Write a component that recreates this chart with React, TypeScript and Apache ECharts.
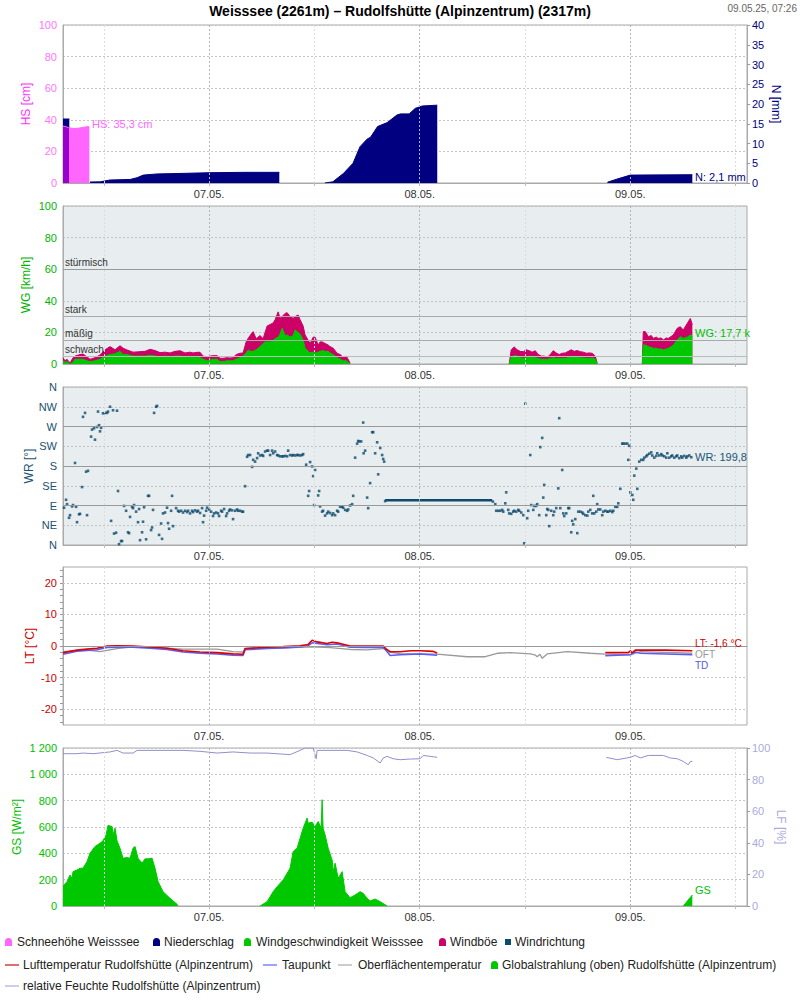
import React, { useEffect, useRef } from 'react';
import * as echarts from 'echarts';

// ---------- axis / time setup (hours since 06.05.2025 00:00) ----------
const X_MIN = 7.35;
const X_MAX = 85.3;
const DAY_TICKS = [24, 48, 72];
const DAY_LABELS = ['07.05.', '08.05.', '09.05.'];
const NOON_LINES = [12, 36, 60, 84];
const HOUR_TICKS = [12, 24, 36, 48, 60, 72, 84];
const WR_LABELS = ['N', 'NE', 'E', 'SE', 'S', 'SW', 'W', 'NW', 'N'];
const LT_LABELS = [-20, -10, 0, 10, 20];
const LT_TICKS = [-24, -22, -20, -18, -16, -14, -12, -10, -8, -6, -4, -2, 0, 2, 4, 6, 8, 10, 12, 14, 16, 18, 20, 22, 24];
const WIND_CLASSES = [
  { value: 5, name: 'schwach' },
  { value: 15, name: 'mäßig' },
  { value: 30, name: 'stark' },
  { value: 60, name: 'stürmisch' },
];

type P = [number, number | null];

// ---------- snow height / precipitation ----------
const HS_DATA: P[] = [[7.35, 36], [7.6, 35.8], [8.0, 35], [8.5, 34.5], [9.0, 34.6], [9.6, 35.2], [10.2, 35.7], [10.35, 35.5]];
const N_DATA: P[] = [
  [7.35, 16.2], [8.07, 16.2], [8.1, null],
  [10.43, 0.25], [11.6, 0.3], [12.7, 0.76], [15.0, 0.9], [15.8, 1.35], [16.5, 2.0], [18.1, 2.3], [20.35, 2.4], [24, 2.6], [27.9, 2.7], [32.0, 2.7], [32.05, null],
  [37.2, 0], [38.1, 0.3], [39.3, 2.4], [40.4, 5.0], [41.2, 9.2], [42.0, 11.1], [42.4, 11.6], [43.2, 14.3], [44.3, 15.3], [45.4, 17.2], [45.8, 17.5], [46.8, 17.5], [47.5, 18.9], [48.3, 19.5], [50.0, 19.7], [50.05, null],
  [69.4, 0.2], [70.5, 1.0], [72.0, 2.0], [79.07, 2.1],
];

// ---------- wind ----------
const GUST_DATA: P[] = [
  [7.35, 4], [7.58, 2], [7.81, 3], [8.15, 0.5], [8.49, 4], [8.72, 5], [9.29, 6], [9.63, 6.3], [10.09, 4.5], [10.43, 3], [11.0, 4], [11.57, 5.7], [12.14, 9], [12.71, 11], [13.28, 9], [13.85, 11.6], [14.19, 10], [14.65, 8.9], [15.33, 7.5], [16.13, 7.8], [16.7, 8], [17.27, 9.3], [17.84, 8.5], [18.41, 7.2], [18.98, 7.5], [19.55, 7], [20.12, 8], [20.69, 8.4], [21.26, 7], [21.83, 7.5], [22.17, 7], [22.63, 7.4], [22.97, 7.4], [23.31, 5], [23.77, 4.6], [24.11, 5], [24.45, 5.3], [24.91, 5.3], [25.25, 3.6], [25.59, 3.6], [26.05, 4], [26.39, 3.8], [26.73, 4], [27.08, 6], [27.53, 6.8], [27.87, 7], [28.22, 14], [28.45, 16.2], [28.67, 18], [29.02, 20.5], [29.36, 16], [29.81, 18], [30.16, 16], [30.38, 20], [30.61, 24], [30.95, 25], [31.3, 26], [31.52, 28], [31.87, 33], [32.09, 29], [32.32, 30], [32.66, 32], [32.89, 32.5], [33.23, 30], [33.58, 29], [33.8, 30], [34.15, 31], [34.37, 28], [34.72, 24], [34.94, 18.4], [35.29, 15], [35.51, 13], [35.86, 17], [36.08, 17], [36.43, 12], [36.65, 14], [36.88, 14], [37.22, 13], [37.57, 12], [37.79, 11], [38.14, 10], [38.59, 6.8], [38.93, 6], [39.28, 4.2], [39.62, 5], [39.85, 3], [40.07, 0.5], [40.1, null],
  [58.2, 0], [58.43, 9], [58.77, 10.8], [59.11, 9], [59.46, 8], [59.8, 7.8], [60.14, 9], [60.48, 8.4], [60.82, 7.5], [61.17, 8.4], [61.51, 6], [61.85, 5], [62.19, 5], [62.53, 4.2], [62.88, 6], [63.22, 8.4], [63.56, 7], [63.9, 6], [64.24, 6.8], [64.59, 7], [64.93, 8], [65.27, 9], [65.61, 8], [65.96, 8.5], [66.3, 7.8], [66.64, 7.5], [66.98, 6.8], [67.32, 7], [67.66, 6.8], [68.01, 5], [68.23, 0.5], [68.3, null],
  [73.37, 0], [73.48, 20.5], [73.71, 20.5], [74.05, 17.3], [74.39, 18], [74.62, 16.2], [74.96, 17], [75.19, 16.2], [75.53, 16.5], [75.76, 15.2], [76.1, 16.5], [76.33, 16.2], [76.67, 17.5], [76.9, 18.4], [77.35, 22.6], [77.7, 23.6], [78.04, 21.5], [78.49, 25.7], [78.84, 28.8], [79.07, 25],
];
const WG_DATA: P[] = [
  [7.35, 2], [7.58, 1], [7.81, 1.5], [8.15, 0], [8.49, 1], [8.72, 3], [9.29, 3], [9.63, 3], [10.09, 2], [10.43, 1.5], [11.0, 2], [11.57, 3], [12.14, 5], [12.71, 6], [13.28, 6.5], [13.85, 8], [14.19, 6], [14.65, 6], [15.33, 5], [16.13, 5], [16.7, 5], [17.27, 5.5], [17.84, 5], [18.41, 4.5], [18.98, 5], [19.55, 4.5], [20.12, 5], [20.69, 5], [21.26, 4.5], [21.83, 4.5], [22.17, 4], [22.63, 4.5], [22.97, 4], [23.31, 3], [23.77, 2], [24.11, 2.5], [24.45, 3], [24.91, 3], [25.25, 1.5], [25.59, 1.5], [26.05, 2], [26.39, 2], [26.73, 2], [27.08, 3], [27.53, 4], [27.87, 5], [28.22, 7], [28.45, 8.9], [28.67, 8], [29.02, 8], [29.36, 9], [29.81, 11], [30.16, 13], [30.38, 14], [30.61, 14], [30.95, 14], [31.3, 15], [31.52, 16], [31.87, 17], [32.09, 19], [32.32, 22.6], [32.66, 18], [32.89, 18.4], [33.23, 17], [33.58, 18], [33.8, 21.5], [34.15, 20], [34.37, 19], [34.72, 15], [34.94, 10], [35.29, 8], [35.51, 7], [35.86, 7.5], [36.08, 7], [36.43, 7.5], [36.65, 8], [36.88, 8.5], [37.22, 8], [37.57, 8], [37.79, 7], [38.14, 6], [38.59, 4], [38.93, 3], [39.28, 2], [39.62, 2], [39.85, 1], [40.07, 0.3], [40.1, null],
  [58.2, 0], [58.43, 4], [58.77, 5.3], [59.11, 5], [59.46, 4], [59.8, 3.6], [60.14, 4], [60.48, 4.5], [60.82, 4], [61.17, 4], [61.51, 3.5], [61.85, 3], [62.19, 3], [62.53, 3], [62.88, 3.5], [63.22, 4], [63.56, 3.5], [63.9, 3.6], [64.24, 3.6], [64.59, 3.6], [64.93, 4], [65.27, 4.5], [65.61, 4.6], [65.96, 4.5], [66.3, 4], [66.64, 3.8], [66.98, 3.6], [67.32, 3.6], [67.66, 3.8], [68.01, 3], [68.23, 0.3], [68.3, null],
  [73.37, 0], [73.48, 12], [73.71, 12], [74.05, 11], [74.39, 10.5], [74.62, 9.9], [74.96, 10], [75.19, 9.5], [75.53, 9.5], [75.76, 8.9], [76.1, 9.5], [76.33, 9.9], [76.67, 11], [76.9, 12], [77.35, 15.2], [77.7, 17.3], [78.04, 16.2], [78.49, 17], [78.84, 18.4], [79.07, 17.7],
];

// ---------- wind direction (degrees) ----------
const WR_DATA: P[] = [
  [7.47, 85], [7.7, 103], [7.81, 93], [8.04, 62], [8.15, 68], [8.38, 88], [8.49, 91], [8.72, 187], [8.84, 87], [8.95, 52], [9.18, 70], [9.29, 71], [9.52, 132], [9.63, 292], [9.86, 301], [9.98, 167], [10.09, 68], [10.2, 169], [10.55, 247], [10.66, 263], [10.89, 266], [11.0, 240], [11.23, 269], [11.34, 304], [11.46, 273], [11.57, 259], [11.69, 267], [11.91, 300], [12.14, 301], [12.37, 301], [12.48, 304], [12.71, 315], [12.83, 55], [13.05, 307], [13.17, 26], [13.4, 28], [13.51, 306], [13.62, 123], [13.74, 2], [13.97, 9], [14.08, 9], [14.31, 89], [14.54, 78], [14.76, 29], [14.88, 27], [14.99, 64], [15.22, 87], [15.33, 84], [15.45, 91], [15.68, 76], [15.9, 52], [16.02, 82], [16.13, 11], [16.36, 29], [16.47, 53], [16.59, 86], [16.82, 13], [17.04, 112], [17.16, 112], [17.39, 34], [17.5, 40], [17.61, 80], [17.73, 301], [17.96, 315], [18.07, 317], [18.3, 23], [18.53, 49], [18.64, 14], [18.75, 72], [18.98, 74], [19.21, 85], [19.32, 50], [19.44, 37], [19.67, 78], [19.78, 112], [19.89, 43], [20.24, 84], [20.46, 78], [20.58, 76], [20.81, 78], [21.03, 74],
  [21.26, 78], [21.49, 75], [21.61, 78], [21.83, 72], [22.06, 78], [22.17, 75], [22.4, 79], [22.63, 76], [22.74, 78], [22.97, 73], [23.2, 84], [23.31, 52], [23.43, 67], [23.66, 78], [23.77, 85], [24.0, 81], [24.23, 76], [24.45, 66], [24.57, 72], [24.8, 74], [25.02, 72], [25.14, 66], [25.37, 78], [25.48, 76], [25.71, 82], [25.94, 66], [26.05, 72], [26.28, 78], [26.39, 81], [26.62, 79], [26.73, 59], [26.96, 78], [27.19, 81], [27.3, 78], [27.53, 78], [27.76, 76], [27.87, 76], [28.1, 134],
  [28.33, 201], [28.45, 205], [28.67, 205], [28.9, 178], [29.02, 194], [29.24, 190], [29.47, 198], [29.59, 209], [29.81, 204], [30.04, 205], [30.16, 203], [30.38, 213], [30.61, 215], [30.73, 215], [30.95, 205], [31.18, 215], [31.3, 209], [31.52, 213], [31.75, 205], [31.87, 204], [32.09, 202], [32.32, 202], [32.44, 202], [32.66, 203], [32.89, 202], [33.01, 215], [33.23, 205], [33.46, 204], [33.58, 205], [33.8, 204], [34.03, 205], [34.15, 205], [34.37, 204], [34.6, 205], [34.72, 207],
  [35.06, 183], [35.29, 112], [35.4, 123], [35.51, 189], [35.74, 179], [35.86, 157], [35.97, 91], [36.08, 171], [36.43, 113], [36.54, 123], [36.65, 88], [36.88, 76], [36.99, 78], [37.22, 67], [37.45, 72], [37.57, 76], [37.79, 73], [38.02, 68], [38.14, 72], [38.36, 68], [38.59, 78], [38.71, 76], [38.93, 87], [39.16, 87], [39.28, 85], [39.5, 80], [39.73, 78], [39.85, 81], [40.07, 90], [40.3, 93], [40.42, 112], [40.64, 199], [40.87, 231], [40.99, 237], [41.1, 236], [41.33, 236], [41.56, 279], [41.61, 209], [41.78, 215], [42.01, 108], [42.13, 84], [42.35, 141], [42.58, 257], [42.7, 257], [42.92, 209], [43.15, 234], [43.27, 161], [43.5, 221], [43.72, 205], [43.84, 196], [43.95, 190], [44.06, 100],
  [56.34, 99], [56.61, 93], [56.72, 78], [56.95, 78], [57.18, 78], [57.4, 80], [57.52, 76], [57.75, 95], [57.86, 120], [58.09, 80], [58.2, 72], [58.43, 71], [58.66, 76], [58.77, 78], [59.0, 76], [59.23, 80], [59.34, 78], [59.57, 74], [59.8, 68], [59.91, 4], [60.03, 322], [60.25, 61], [60.37, 78], [60.6, 205], [60.71, 91], [60.94, 80], [61.05, 89], [61.28, 89], [61.39, 93], [61.62, 68], [61.74, 223], [61.96, 244], [62.08, 108], [62.19, 137], [62.42, 68], [62.53, 82], [62.65, 80], [62.76, 43], [62.99, 78], [63.22, 68], [63.33, 76], [63.56, 84], [63.79, 129], [63.9, 289], [64.02, 84], [64.24, 171], [64.36, 72], [64.47, 66], [64.7, 72], [64.93, 84], [65.04, 84], [65.27, 29], [65.38, 55], [65.5, 47], [65.73, 59], [65.96, 27], [66.07, 76], [66.3, 76], [66.53, 74], [66.64, 71], [66.87, 68], [67.1, 67], [67.21, 76], [67.44, 80], [67.66, 72], [67.78, 112], [67.89, 72], [68.12, 76], [68.23, 93], [68.35, 81], [68.58, 81], [68.8, 68], [68.92, 76], [69.15, 78], [69.37, 76], [69.49, 76], [69.72, 78], [69.94, 75], [70.06, 78], [70.29, 87], [70.51, 87], [70.63, 95], [70.86, 128],
  [71.08, 231], [71.2, 231], [71.43, 231], [71.66, 231], [71.77, 194], [71.88, 226], [72.0, 120], [72.23, 114], [72.34, 103], [72.45, 158], [72.68, 174], [72.8, 128], [73.02, 190], [73.25, 194], [73.48, 194], [73.59, 199], [73.82, 202], [73.94, 205], [74.16, 208], [74.39, 211], [74.5, 204], [74.73, 199], [74.96, 203], [75.07, 209], [75.3, 204], [75.53, 207], [75.65, 204], [75.87, 202], [76.1, 199], [76.22, 209], [76.44, 199], [76.67, 202], [76.78, 204], [77.01, 199], [77.24, 202], [77.35, 204], [77.58, 198], [77.81, 202], [77.92, 199], [78.15, 203], [78.38, 199], [78.49, 202], [78.72, 204], [78.95, 200],
];
// constant-value stretch reported by the station
const WR_FLAT: P[] = [[44.06, 102], [56.26, 102]];

// ---------- temperatures ----------
const LT_DATA: P[] = [
  [7.35, -2.1], [8.95, -1.3], [10.09, -1.0], [11.23, -0.7], [12.37, 0], [13.51, 0.1], [15.33, 0], [17.27, -0.3], [19.21, -0.7], [21.03, -1.5], [22.97, -1.9], [24.91, -2.1], [26.73, -2.5], [27.87, -2.6], [28.1, -0.8], [30.61, -0.4], [32.44, -0.2], [34.37, 0.1], [35.3, 0.5], [35.74, 1.8], [36.31, 1.3], [37.45, 0.8], [38.0, 1.2], [38.59, 1.0], [40.07, 0], [42.01, 0], [43.84, 0], [44.2, -1.0], [44.63, -1.8], [45.77, -1.8], [47.0, -1.5], [48.05, -1.5], [49.5, -1.7], [49.99, -2.2], [50.05, null],
  [69.15, -2.1], [71.8, -2.1], [72.0, -1.5], [72.2, -2.2], [72.57, -1.3], [76.0, -1.3], [79.07, -1.5],
];
const TD_DATA: P[] = [
  [7.35, -2.6], [8.95, -1.7], [10.09, -1.4], [11.23, -1.2], [12.37, -0.5], [13.51, -0.4], [15.33, -0.4], [17.27, -0.7], [19.21, -1.1], [21.03, -1.9], [22.97, -2.3], [24.91, -2.5], [26.73, -2.9], [27.87, -3.0], [28.1, -1.2], [30.61, -0.8], [32.44, -0.6], [34.37, -0.3], [35.3, 0.1], [35.74, 1.0], [36.31, 0.8], [37.45, 0.4], [38.59, 0.6], [40.07, -0.4], [42.01, -0.5], [43.84, -0.5], [44.2, -1.5], [44.63, -3.0], [45.77, -2.8], [48.05, -2.5], [49.99, -2.9], [50.05, null],
  [69.15, -3.1], [72.0, -2.8], [72.2, -2.4], [72.57, -1.9], [73.14, -2.3], [76.0, -2.5], [79.07, -2.8],
];
const OFT_DATA: P[] = [
  [7.35, -1.8], [10.09, -1.3], [11.57, -1.8], [13.51, -0.8], [15.33, -0.3], [17.27, -0.4], [21.03, -1.0], [24.91, -1.0], [26.73, -1.8], [27.87, -1.9], [28.1, -0.8], [32.09, -0.6], [34.37, -0.4], [35.74, -0.3], [37.79, -0.5], [40.07, -1.1], [42.01, -1.2], [43.84, -0.8], [44.63, -2.0], [45.77, -2.4], [48.05, -2.5], [49.99, -2.6], [53.41, -3.4], [55.47, -3.4], [56.83, -2.3], [58.31, -2.1], [60.6, -2.5], [61.2, -2.9], [61.39, -3.4], [61.7, -2.6], [61.96, -3.9], [62.53, -2.5], [64.81, -1.8], [67.44, -2.3], [69.15, -2.6], [72.0, -2.8], [73.14, -1.8], [79.07, -2.3],
];

// ---------- radiation / humidity ----------
const GS_DATA: P[] = [
  [7.35, 150], [7.47, 160], [7.81, 185], [8.15, 236], [8.38, 210], [8.49, 261], [8.95, 274], [9.29, 287], [9.63, 287], [10.09, 338], [10.43, 401], [11.0, 452], [11.57, 477], [11.91, 495], [12.26, 540], [12.48, 612], [12.94, 604], [13.05, 540], [13.28, 591], [13.51, 495], [13.85, 439], [14.19, 363], [14.65, 368], [14.99, 363], [15.33, 439], [15.56, 452], [15.9, 363], [16.36, 325], [16.7, 358], [17.04, 358], [17.5, 363], [17.84, 287], [18.19, 185], [18.75, 109], [19.55, 58], [20.35, 13], [20.46, 0], [20.5, null],
  [29.81, 0], [30.61, 33], [31.3, 109], [31.75, 147], [32.44, 198], [33.23, 287], [33.58, 414], [34.03, 439], [34.37, 515], [34.72, 591], [35.17, 668], [35.29, 629], [35.74, 637], [36.08, 604], [36.43, 642], [36.77, 591], [36.88, 807], [36.99, 591], [37.22, 540], [37.57, 439], [38.02, 350], [38.14, 261], [38.36, 325], [38.71, 211], [39.16, 261], [39.5, 109], [40.07, 63], [40.64, 84], [41.21, 109], [41.56, 96], [42.01, 58], [42.35, 38], [42.92, 53], [43.5, 33], [44.29, 0], [44.3, null],
  [78.04, 0], [79.07, 84],
];
const LF_DATA: P[] = [
  [7.35, 96.4], [8.95, 96.4], [9.63, 96.8], [10.77, 96.4], [12.71, 97.5], [13.51, 98.5], [14.19, 96.8], [15.33, 96.8], [15.79, 98.5], [17.27, 98.5], [21.03, 98.5], [22.97, 97.9], [24.91, 96.8], [26.73, 97.5], [28.67, 96.8], [30.61, 96.8], [33.23, 95.8], [34.37, 98.5], [34.94, 100], [35.86, 100], [36.2, 93.2], [36.31, 98.5], [38.14, 98.5], [39.73, 98.5], [40.87, 97.5], [42.01, 95.3], [42.7, 93.7], [43.5, 90.5], [43.84, 93.7], [44.29, 94.7], [44.98, 93.2], [45.77, 92.6], [46.92, 93.0], [48.05, 93.2], [48.4, 95.3], [49.2, 94.7], [49.99, 94.1], [50.05, null],
  [69.26, 94.1], [70.51, 92.6], [72.0, 94.1], [72.57, 95.3], [73.14, 93.7], [74.05, 95.3], [75.76, 95.3], [76.56, 93.7], [77.35, 93.2], [78.04, 91.5], [78.61, 89.4], [78.84, 91.5], [79.07, 91.5],
];

// ---------- texts ----------
const TITLE = 'Weisssee (2261m) – Rudolfshütte (Alpinzentrum) (2317m)';
const STAMP = '09.05.25, 07:26';
const END_LABELS = [
  { text: 'HS: 35,3 cm', color: '#ff66ff', size: 11 },
  { text: 'N: 2,1 mm', color: '#000080', size: 11 },
  { text: 'WG: 17,7 k', color: '#00c000', size: 11 },
  { text: 'WR: 199,8', color: '#1a5575', size: 11 },
  { text: 'LT: -1,6 °C', color: '#cc0000', size: 10 },
  { text: 'OFT', color: '#999999', size: 10 },
  { text: 'TD', color: '#5555ee', size: 10 },
  { text: 'GS', color: '#00c000', size: 11 },
];
const END_LABEL_POS = [[92, 124], [695, 177], [695, 333], [695, 457], [695, 643], [695, 654], [695, 665], [695, 890]];

const LEGEND_ITEMS = [
  { name: 'Schneehöhe Weisssee', color: '#ff66ff', icon: 'bell' },
  { name: 'Niederschlag', color: '#000080', icon: 'bell' },
  { name: 'Windgeschwindigkeit Weisssee', color: '#00c800', icon: 'bell' },
  { name: 'Windböe', color: '#cc0066', icon: 'bell' },
  { name: 'Windrichtung', color: '#0d4a6b', icon: 'square' },
  { name: 'Lufttemperatur Rudolfshütte (Alpinzentrum)', color: '#e07070', icon: 'line' },
  { name: 'Taupunkt', color: '#a0a0ff', icon: 'line' },
  { name: 'Oberflächentemperatur', color: '#cccccc', icon: 'line' },
  { name: 'Globalstrahlung (oben) Rudolfshütte (Alpinzentrum)', color: '#00c800', icon: 'bell' },
  { name: 'relative Feuchte Rudolfshütte (Alpinzentrum)', color: '#ccccee', icon: 'line' },
];
// [iconX, textX, rowY]
const LEGEND_POS = [
  [5, 17, 942], [153, 164, 942], [244, 256, 942], [439, 450, 942], [505, 515, 942],
  [5, 23, 965], [263, 282, 965], [338, 358, 965], [491, 502, 965],
  [5, 23, 986],
];

const FONT = "'Liberation Sans', Arial, sans-serif";
const GRID_TOPS = [25, 206, 387, 567, 748];
const GRID_BG = ['#ffffff', '#e8eef0', '#e8eef0', '#ffffff', '#ffffff'];

function fmtThousands(v: number): string {
  if (v >= 1000) return `${Math.floor(v / 1000)} ${String(v % 1000).padStart(3, '0')}`;
  return String(v);
}

const DASH = [2, 2];

function vLineData() {
  return [
    ...DAY_TICKS.map((x) => ({ xAxis: x, lineStyle: { color: '#b4b4b4', type: DASH, width: 1 } })),
    ...NOON_LINES.map((x) => ({ xAxis: x, lineStyle: { color: '#dcdcdc', type: DASH, width: 1 } })),
  ];
}

function refSeries(gi: number, yi: number, extra: any[] = []) {
  return {
    type: 'line',
    xAxisIndex: gi,
    yAxisIndex: yi,
    data: [],
    silent: true,
    z: 1,
    markLine: {
      silent: true,
      symbol: 'none',
      animation: false,
      label: { show: false },
      data: [...vLineData(), ...extra],
    },
  };
}

function areaSeries(name: string, gi: number, yi: number, data: P[], color: any, z: number, lineColor?: string) {
  return {
    name,
    type: 'line',
    xAxisIndex: gi,
    yAxisIndex: yi,
    data,
    showSymbol: false,
    connectNulls: false,
    z,
    lineStyle: { width: 1, color: lineColor || color },
    itemStyle: { color: lineColor || color },
    areaStyle: { color, opacity: 1 },
  };
}

function lineSeries(name: string, gi: number, yi: number, data: P[], color: string, width: number, z: number) {
  return {
    name,
    type: 'line',
    xAxisIndex: gi,
    yAxisIndex: yi,
    data,
    showSymbol: false,
    connectNulls: false,
    z,
    lineStyle: { width, color },
    itemStyle: { color },
  };
}

function leftAxis(gi: number, opts: any) {
  return {
    type: 'value',
    gridIndex: gi,
    position: 'left',
    nameLocation: 'middle',
    nameRotate: 90,
    nameMoveOverlap: false,
    axisLine: { show: true, lineStyle: { color: '#aaaaaa' } },
    axisTick: { show: false },
    splitLine: { show: true, lineStyle: { color: '#c4c4c4', type: DASH } },
    ...opts,
    axisLabel: { fontSize: 11, margin: 6, fontFamily: FONT, ...(opts.axisLabel || {}) },
    nameTextStyle: { fontSize: 12, fontFamily: FONT, ...(opts.nameTextStyle || {}) },
  };
}

function rightAxis(gi: number, opts: any) {
  return {
    type: 'value',
    gridIndex: gi,
    position: 'right',
    nameLocation: 'middle',
    nameRotate: -90,
    nameMoveOverlap: false,
    axisLine: { show: true, lineStyle: { color: '#aaaaaa' } },
    axisTick: { show: true, length: 3, lineStyle: { color: '#999999' } },
    splitLine: { show: false },
    ...opts,
    axisLabel: { fontSize: 11, margin: 5, fontFamily: FONT, ...(opts.axisLabel || {}) },
    nameTextStyle: { fontSize: 12, fontFamily: FONT, ...(opts.nameTextStyle || {}) },
  };
}

function buildOption(): any {
  const grid = GRID_TOPS.map((top, i) => ({
    left: 63,
    top,
    width: 684,
    height: 158,
    show: true,
    borderColor: '#aaaaaa',
    borderWidth: 1,
    backgroundColor: GRID_BG[i],
  }));

  const xAxis = GRID_TOPS.map((_, i) => ({
    type: 'value',
    gridIndex: i,
    min: X_MIN,
    max: X_MAX,
    axisLine: { show: true, lineStyle: { color: '#aaaaaa' } },
    axisTick: { show: true, customValues: HOUR_TICKS, length: 3, lineStyle: { color: '#bbbbbb' } },
    splitLine: { show: false },
    axisLabel: {
      customValues: DAY_TICKS,
      formatter: (v: number) => DAY_LABELS[DAY_TICKS.indexOf(Math.round(v))] || '',
      color: '#333333',
      fontSize: 11,
      margin: 5,
      fontFamily: FONT,
    },
  }));

  const yAxis = [
    leftAxis(0, { min: 0, max: 100, interval: 20, name: 'HS [cm]', nameGap: 31, axisLabel: { color: '#ff77ff' }, nameTextStyle: { color: '#ff33ff' } }),
    rightAxis(0, { min: 0, max: 40, interval: 5, name: 'N [mm]', nameGap: 23, axisLabel: { color: '#000080' }, nameTextStyle: { color: '#000080' } }),
    leftAxis(1, { min: 0, max: 100, interval: 20, name: 'WG [km/h]', nameGap: 31, axisLabel: { color: '#00b400' }, nameTextStyle: { color: '#00b400' } }),
    leftAxis(2, {
      min: 0, max: 360, interval: 45, name: 'WR [°]', nameGap: 28,
      axisLabel: { color: '#1a5070', formatter: (v: number) => WR_LABELS[Math.round(v / 45)] },
      nameTextStyle: { color: '#1a5070' },
    }),
    leftAxis(3, {
      min: -25, max: 25, name: 'LT [°C]', nameGap: 27,
      splitLine: { show: false },
      axisTick: { show: true, customValues: LT_TICKS, length: 3, lineStyle: { color: '#999999' } },
      axisLabel: { color: '#cc0000', customValues: LT_LABELS },
      nameTextStyle: { color: '#cc0000' },
    }),
    leftAxis(4, {
      min: 0, max: 1200, interval: 200, name: 'GS [W/m²]', nameGap: 40,
      axisLabel: { color: '#00c000', formatter: (v: number) => fmtThousands(v) },
      nameTextStyle: { color: '#00c000' },
    }),
    rightAxis(4, { min: 0, max: 100, interval: 20, name: 'LF [%]', nameGap: 28, axisLabel: { color: '#aaaadd' }, nameTextStyle: { color: '#aaaadd' } }),
  ];

  const hsFill = new echarts.graphic.LinearGradient(0, 0, 1, 0, [
    { offset: 0, color: '#9900cc' },
    { offset: 0.24, color: '#9900cc' },
    { offset: 0.24, color: '#ff66ff' },
    { offset: 1, color: '#ff66ff' },
  ]);

  const windLines = WIND_CLASSES.map((c) => ({
    yAxis: c.value,
    name: c.name,
    lineStyle: { color: c.value === 5 ? '#bbbbbb' : c.value === 60 ? '#999999' : '#aaaaaa', type: 'solid', width: 1 },
    label: {
      show: true,
      position: 'insideStartTop',
      formatter: '{b}',
      color: '#333333',
      fontSize: 10,
      fontFamily: FONT,
      distance: [2, 2],
    },
  }));
  const compassLines = [90, 180, 270].map((v) => ({ yAxis: v, lineStyle: { color: '#9a9a9a', type: 'solid', width: 1 } }));
  const ltLines = LT_LABELS.map((v) => ({
    yAxis: v,
    lineStyle: v === 0 ? { color: '#9a9a9a', type: 'solid', width: 1 } : { color: '#c4c4c4', type: DASH, width: 1 },
  }));

  const series: any[] = [
    refSeries(0, 0),
    areaSeries('Niederschlag', 0, 1, N_DATA, '#000080', 2),
    areaSeries('Schneehöhe Weisssee', 0, 0, HS_DATA, hsFill, 3, '#ff66ff'),

    refSeries(1, 2, windLines),
    areaSeries('Windböe', 1, 2, GUST_DATA, '#cc0066', 2),
    areaSeries('Windgeschwindigkeit Weisssee', 1, 2, WG_DATA, '#00c800', 3),

    refSeries(2, 3, compassLines),
    {
      name: 'Windrichtung',
      type: 'scatter',
      xAxisIndex: 2,
      yAxisIndex: 3,
      data: WR_DATA,
      symbol: 'rect',
      symbolSize: 2.6,
      itemStyle: { color: '#0d4a6b' },
      z: 3,
    },
    lineSeries('Windrichtung (konstant)', 2, 3, WR_FLAT, '#0d4a6b', 2.6, 3),

    refSeries(3, 4, ltLines),
    lineSeries('Oberflächentemperatur', 3, 4, OFT_DATA, '#999999', 1.3, 2),
    lineSeries('Taupunkt', 3, 4, TD_DATA, '#5a5aff', 1.5, 3),
    lineSeries('Lufttemperatur Rudolfshütte (Alpinzentrum)', 3, 4, LT_DATA, '#dd0000', 1.6, 4),

    refSeries(4, 5),
    areaSeries('Globalstrahlung (oben) Rudolfshütte (Alpinzentrum)', 4, 5, GS_DATA, '#00c800', 2),
    lineSeries('relative Feuchte Rudolfshütte (Alpinzentrum)', 4, 6, LF_DATA, '#8f8fcc', 1, 3),
  ];

  const graphics: any[] = [
    {
      type: 'text', x: 400, y: 11, z: 100,
      style: { text: TITLE, fill: '#000000', fontSize: 14, fontWeight: 'bold', fontFamily: FONT, align: 'center', verticalAlign: 'middle' },
    },
    {
      type: 'text', x: 797, y: 8, z: 100,
      style: { text: STAMP, fill: '#666666', fontSize: 10, fontFamily: FONT, align: 'right', verticalAlign: 'middle' },
    },
  ];
  END_LABELS.forEach((l, i) => {
    graphics.push({
      type: 'text', x: END_LABEL_POS[i][0], y: END_LABEL_POS[i][1], z: 100,
      style: { text: l.text, fill: l.color, fontSize: l.size, fontFamily: FONT, align: 'left', verticalAlign: 'middle' },
    });
  });
  LEGEND_ITEMS.forEach((it, i) => {
    const [ix, tx, y] = LEGEND_POS[i];
    if (it.icon === 'bell') {
      graphics.push({ type: 'rect', x: ix, y: y - 4, z: 100, shape: { x: 0, y: 0, width: 7, height: 8, r: [3.5, 3.5, 0, 0] }, style: { fill: it.color } });
    } else if (it.icon === 'square') {
      graphics.push({ type: 'rect', x: ix, y: y - 3, z: 100, shape: { x: 0, y: 0, width: 6, height: 6 }, style: { fill: it.color } });
    } else {
      graphics.push({ type: 'rect', x: ix, y: y - 1, z: 100, shape: { x: 0, y: 0, width: 14, height: 2 }, style: { fill: it.color } });
    }
    graphics.push({
      type: 'text', x: tx, y, z: 100,
      style: { text: it.name, fill: '#222222', fontSize: 12, fontFamily: FONT, align: 'left', verticalAlign: 'middle' },
    });
  });

  return {
    animation: false,
    backgroundColor: '#ffffff',
    textStyle: { fontFamily: FONT },
    grid,
    xAxis,
    yAxis,
    series,
    graphic: graphics,
  };
}

export default function App() {
  const ref = useRef<HTMLDivElement>(null);
  useEffect(() => {
    document.body.style.margin = '0';
    const chart = echarts.init(ref.current as HTMLDivElement, undefined, { renderer: 'svg' });
    chart.setOption(buildOption());
    return () => chart.dispose();
  }, []);
  return <div ref={ref} style={{ width: 800, height: 1000 }} />;
}
